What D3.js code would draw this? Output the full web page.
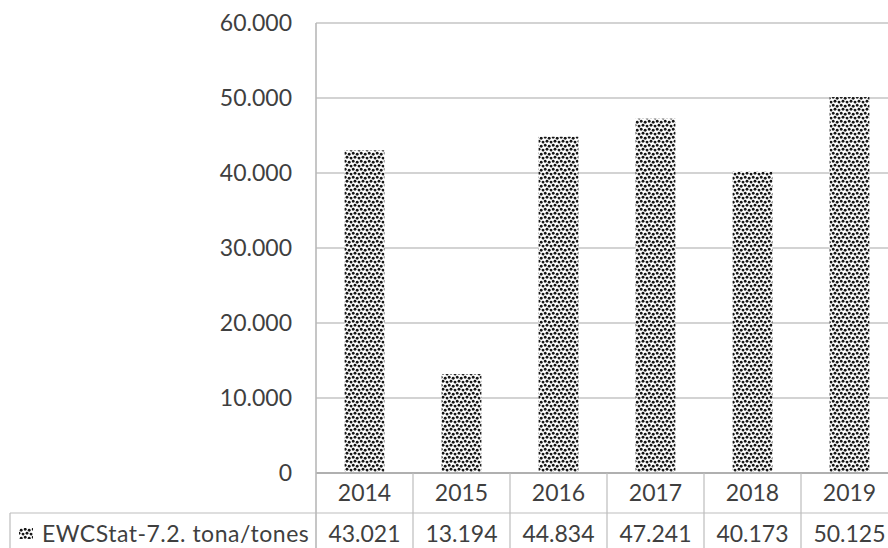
<!DOCTYPE html>
<html>
<head>
<meta charset="utf-8">
<script src="https://cdn.jsdelivr.net/npm/d3@7"></script>
<style>
  html, body { margin: 0; padding: 0; background: #fff; }
  svg { display: block; }
  text { font-family: Lato, "Open Sans", sans-serif; fill: #3f3f3f; }
</style>
</head>
<body>
<svg id="chart" width="888" height="548"></svg>
<script>
// Annual quantities (tonnes) for EWCStat 7.2
const years = ["2014", "2015", "2016", "2017", "2018", "2019"];
const tonnes = [43021, 13194, 44834, 47241, 40173, 50125];
const yTicks = [0, 10000, 20000, 30000, 40000, 50000, 60000];
const seriesName = "EWCStat-7.2. tona/tones";

const W = 888, H = 548;
const plot = { left: 316, right: 898, top: 23, bottom: 473 };
const tableRows = { header: [473, 513], values: [513, 554] };
const legendLeft = 10;
const fontSize = 23;

// thousands separated with a dot
const loc = d3.formatLocale({ decimal: ",", thousands: ".", grouping: [3], currency: ["", ""] });
const fmt = loc.format(",d");

const svg = d3.select("#chart");

// dotted fill used by the bars and the legend key
const defs = svg.append("defs");
const pat = defs.append("pattern")
  .attr("id", "dots").attr("patternUnits", "userSpaceOnUse")
  .attr("width", 8).attr("height", 8);
pat.append("rect").attr("width", 8).attr("height", 8).attr("fill", "#fff");
[[1.2, 1.3], [5.2, 2.2], [3.0, 5.3], [7.0, 6.1]].forEach(([cx, cy]) => {
  pat.append("circle").attr("cx", cx).attr("cy", cy).attr("r", 1.45).attr("fill", "#161616");
});
// wrap-around copies so the dots near the tile edges stay round
[[9.2, 1.3], [1.2, 9.3], [-1.0, 6.1], [7.0, -1.9]].forEach(([cx, cy]) => {
  pat.append("circle").attr("cx", cx).attr("cy", cy).attr("r", 1.45).attr("fill", "#161616");
});

const x = d3.scaleBand().domain(years).range([plot.left, plot.right]).padding(0);
const y = d3.scaleLinear().domain([0, 60000]).range([plot.bottom, plot.top]);
const barW = x.bandwidth() * 0.41;

// horizontal gridlines
svg.append("g").selectAll("line").data(yTicks.slice(1)).join("line")
  .attr("x1", plot.left).attr("x2", W)
  .attr("y1", d => y(d)).attr("y2", d => y(d))
  .attr("stroke", "#d3d3d3").attr("stroke-width", 1.8);

// y axis tick labels
const yAxis = d3.axisLeft(y).tickValues(yTicks).tickFormat(fmt).tickSize(0).tickPadding(24);
const gy = svg.append("g").attr("transform", `translate(${plot.left},0)`).call(yAxis);
gy.select(".domain").remove();
gy.selectAll("text")
  .attr("font-family", "Lato, 'Open Sans', sans-serif")
  .attr("font-size", fontSize).attr("fill", "#3f3f3f").attr("dy", "0.34em");

// bars
svg.append("g").selectAll("rect").data(tonnes).join("rect")
  .attr("x", (d, i) => x(years[i]) + (x.bandwidth() - barW) / 2)
  .attr("width", barW)
  .attr("y", d => y(d))
  .attr("height", d => y(0) - y(d))
  .attr("fill", "url(#dots)");

// data table beneath the plot
const tbl = svg.append("g").attr("stroke", "#bdbdbd").attr("stroke-width", 1.2);
tbl.append("line").attr("x1", plot.left).attr("x2", W)
  .attr("y1", tableRows.header[0]).attr("y2", tableRows.header[0]).attr("stroke", "#b0b0b0").attr("stroke-width", 1.8);
tbl.append("line").attr("x1", legendLeft).attr("x2", W)
  .attr("y1", tableRows.values[0]).attr("y2", tableRows.values[0]);
tbl.append("line").attr("x1", legendLeft).attr("x2", legendLeft)
  .attr("y1", tableRows.values[0]).attr("y2", H);
tbl.selectAll("line.col").data(years.slice(1)).join("line").attr("class", "col")
  .attr("x1", d => x(d)).attr("x2", d => x(d))
  .attr("y1", tableRows.header[0]).attr("y2", H);

// left axis line running through the table
svg.append("line").attr("x1", plot.left).attr("x2", plot.left)
  .attr("y1", plot.top).attr("y2", H).attr("stroke", "#b8b8b8").attr("stroke-width", 1.6);

// year headers
svg.append("g").selectAll("text").data(years).join("text")
  .attr("x", d => x(d) + x.bandwidth() / 2)
  .attr("y", 493)
  .attr("dy", "0.36em").attr("text-anchor", "middle").attr("font-size", fontSize)
  .text(d => d);

// value row
svg.append("g").selectAll("text").data(tonnes).join("text")
  .attr("x", (d, i) => x(years[i]) + x.bandwidth() / 2)
  .attr("y", 534)
  .attr("dy", "0.36em").attr("text-anchor", "middle").attr("font-size", fontSize)
  .text(d => fmt(d));

// legend key and series name
svg.append("rect").attr("x", 19).attr("y", 528).attr("width", 14).attr("height", 11)
  .attr("fill", "url(#dots)");
svg.append("text").attr("x", 42).attr("y", 534).attr("dy", "0.36em")
  .attr("font-size", fontSize).attr("letter-spacing", 0.5).text(seriesName);
</script>
</body>
</html>
